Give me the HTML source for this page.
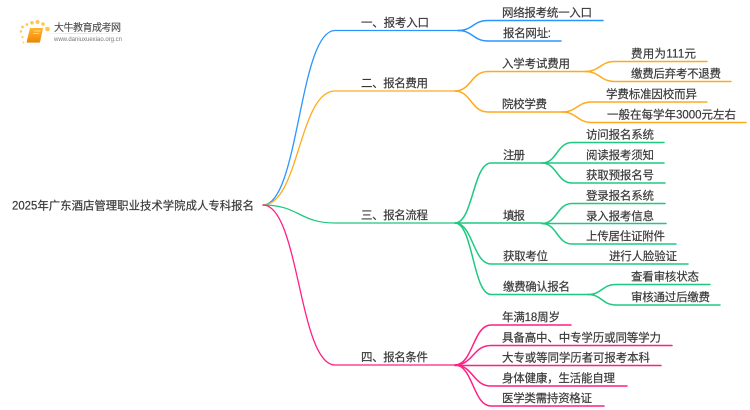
<!DOCTYPE html>
<html><head><meta charset="utf-8"><style>
html,body{margin:0;padding:0;background:#fff;width:750px;height:410px;overflow:hidden}
svg{display:block;filter:blur(.3px)}
text{font-family:"Liberation Sans","Noto Sans CJK SC",sans-serif;font-size:11.5px;fill:#383838;stroke:#383838;stroke-width:.18}
path{fill:none;stroke-linecap:round}
.b path{stroke:#2b95ff}.o path{stroke:#ffaa1c}.g path{stroke:#1fc880}.p path{stroke:#ff1f85}
.l1 path{stroke-width:1.3}.l2 path{stroke-width:1.5}
</style></head><body>
<svg width="750" height="410" viewBox="0 0 750 410" xmlns="http://www.w3.org/2000/svg">
<defs>
<linearGradient id="fade" x1="0" x2="1" y1="0" y2="0"><stop offset="0" stop-color="#ddd" stop-opacity="0"/><stop offset=".3" stop-color="#ddd"/><stop offset="1" stop-color="#ddd" stop-opacity="0"/></linearGradient>
<linearGradient id="book" x1="0" x2="0" y1="0" y2="1"><stop offset="0" stop-color="#ffb52e"/><stop offset="1" stop-color="#f08a0c"/></linearGradient>
</defs>
<!-- logo -->
<g fill="#fdc654" stroke="none">
<circle cx="22.500" cy="27" r="1.400"/><circle cx="21" cy="31.500" r="1.200"/><circle cx="27" cy="24.500" r="1.400"/><circle cx="32" cy="22.800" r="1.800"/><circle cx="37.500" cy="22" r="2"/><circle cx="43" cy="24" r="1.800"/><circle cx="47.500" cy="29" r="2.300"/><circle cx="22.500" cy="37" r="1"/><circle cx="23.500" cy="42.500" r=".9"/>
</g>
<path d="M30 28h13l-2.800 13.500h-13.500z" style="fill:url(#book);stroke:none"/>
<path d="M27 41l-.3 1.600h13l.4-1.600z" style="fill:#e88a10;stroke:none"/>
<path d="M34 31h6M33.500 33.500h5.500" style="stroke:#ffe6ae;stroke-width:.8"/>
<text x="54" y="31" style="font-size:10px;fill:#4a4a4a;stroke:#4a4a4a;stroke-width:.12" textLength="67">大牛教育成考网</text>
<rect x="44" y="33" width="90" height=".8" fill="url(#fade)"/>
<text x="54" y="41" style="font-size:6px;fill:#777;stroke:none" textLength="68" lengthAdjust="spacingAndGlyphs">www.daniuxuexiao.org.cn</text>

<!-- root -->
<text x="12" y="209.500" textLength="242" lengthAdjust="spacingAndGlyphs">2025年广东酒店管理职业技术学院成人专科报名</text>

<g class="b l1"><path d="M263 205C299 205 299 30.500 335 30.500H458"/></g>
<g class="o l1"><path d="M263 205C299 205 299 91 335 91H455"/></g>
<g class="g l1"><path d="M263 205C299 205 299 223 335 223H455"/></g>
<g class="p l1"><path d="M263 205C299 205 299 365 335 365H455"/></g>

<g class="b l2">
<path d="M458 30.500C473 30.500 473 20.500 488 20.500H603"/>
<path d="M458 30.500C473 30.500 473 41 488 41H561"/>
</g>
<g class="o l2">
<path d="M455 91C471 91 471 71.500 488 71.500H585"/>
<path d="M455 91C471 91 471 112 488 112H562"/>
<path d="M585 71.500C600 71.500 600 61.500 615 61.500H707"/>
<path d="M585 71.500C600 71.500 600 81.500 615 81.500H731"/>
<path d="M562 112C577 112 577 102 592 102H707"/>
<path d="M562 112C577 112 577 122.500 592 122.500H746"/>
</g>
<g class="g l2">
<path d="M455 223C473 223 473 163 491 163H542"/>
<path d="M455 223H542"/>
<path d="M455 223C473 223 473 264 491 264H688"/>
<path d="M455 223C473 223 473 294.500 491 294.500H588"/>
<path d="M542 163C557 163 557 142.500 572 142.500H664"/>
<path d="M542 163H664"/>
<path d="M542 163C557 163 557 183 572 183H665"/>
<path d="M542 223.500C557 223.500 557 203.500 572 203.500H665"/>
<path d="M542 223.500H666"/>
<path d="M542 223.500C557 223.500 557 244 572 244H676"/>
<path d="M588 294.500C602 294.500 602 284.500 616 284.500H710"/>
<path d="M588 294.500C602 294.500 602 305 616 305H720"/>
</g>
<g class="p l2">
<path d="M455 365C473 365 473 325 491 325H571"/>
<path d="M455 365C473 365 473 345.500 491 345.500H672"/>
<path d="M455 365.500H661"/>
<path d="M455 365C473 365 473 386 491 386H627"/>
<path d="M455 365C473 365 473 406 491 406H604"/>
</g>

<text x="361" y="26.500" textLength="68">一、报考入口</text>
<text x="361" y="87" textLength="67">二、报名费用</text>
<text x="361" y="219" textLength="67">三、报名流程</text>
<text x="361" y="361" textLength="67">四、报名条件</text>

<text x="502" y="16.500" textLength="90">网络报考统一入口</text>
<text x="503" y="37" textLength="48">报名网址:</text>
<text x="502" y="67.500" textLength="68">入学考试费用</text>
<text x="631" y="57.500" textLength="65">费用为111元</text>
<text x="631" y="77.500" textLength="90">缴费后弃考不退费</text>
<text x="502" y="108" textLength="45">院校学费</text>
<text x="606" y="98" textLength="91">学费标准因校而异</text>
<text x="607" y="118.500" textLength="129">一般在每学年3000元左右</text>

<text x="503" y="159" textLength="22">注册</text>
<text x="586" y="138.500" textLength="68">访问报名系统</text>
<text x="586" y="159" textLength="68">阅读报考须知</text>
<text x="586" y="179" textLength="68">获取预报名号</text>
<text x="503" y="219.500" textLength="22">填报</text>
<text x="586" y="199.500" textLength="68">登录报名系统</text>
<text x="586" y="220" textLength="68">录入报考信息</text>
<text x="586" y="240" textLength="79">上传居住证附件</text>
<text x="503" y="260" textLength="45">获取考位</text>
<text x="609" y="260" textLength="68">进行人脸验证</text>
<text x="503" y="290.500" textLength="67">缴费确认报名</text>
<text x="631" y="280.500" textLength="68">查看审核状态</text>
<text x="631" y="301" textLength="79">审核通过后缴费</text>

<text x="502" y="321" textLength="58">年满18周岁</text>
<text x="502" y="341.500" textLength="159">具备高中、中专学历或同等学力</text>
<text x="502" y="361.500" textLength="148">大专或等同学历者可报考本科</text>
<text x="502" y="382" textLength="113">身体健康，生活能自理</text>
<text x="502" y="402" textLength="90">医学类需持资格证</text>
</svg>
</body></html>
